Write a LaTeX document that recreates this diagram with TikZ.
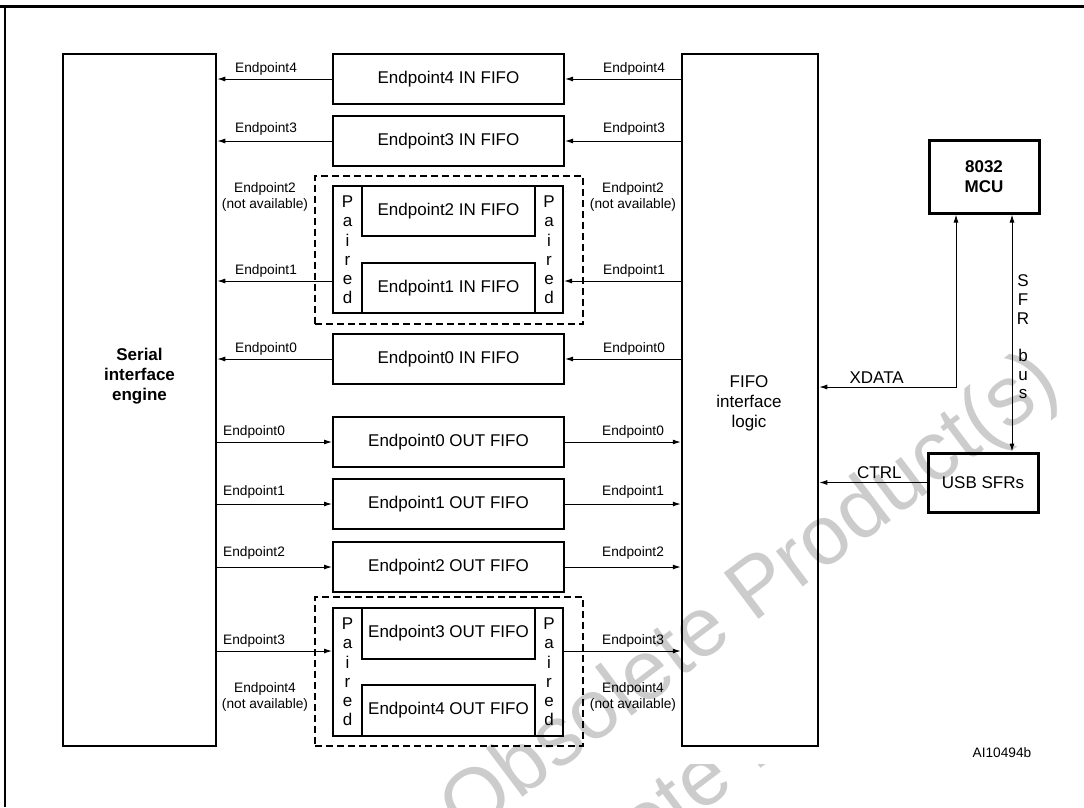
\documentclass[tikz,border=0pt]{standalone}
\usepackage{fontspec}
\setmainfont{Liberation Sans}
\usetikzlibrary{arrows.meta,positioning}

\begin{document}
\begin{tikzpicture}[x=1pt, y=-1pt, node distance=10pt,
		fifo/.style={rectangle, draw, line width=2pt, minimum width=231pt, minimum height=50pt, inner sep=0pt, font=\fontsize{17}{20}\selectfont},
		halfbox/.style={fifo, minimum width=173pt, minimum height=51pt},
		pairbox/.style={rectangle, draw, line width=2pt, minimum width=230pt, minimum height=128pt, inner sep=0pt},
		dashbox/.style={rectangle, draw, line width=2pt, dash pattern=on 7pt off 4pt, minimum width=268pt, minimum height=148pt, inner sep=0pt},
		bigbox/.style={rectangle, draw, line width=2.5pt, minimum height=692pt, inner sep=0pt},
		cpubox/.style={rectangle, draw, line width=3pt, minimum width=110pt, inner sep=0pt, font=\fontsize{17}{20}\selectfont},
		boxtext/.style={align=center, inner sep=0pt, font=\fontsize{17}{20}\selectfont},
		paired/.style={align=center, inner sep=0pt, font=\fontsize{17}{19.2}\selectfont},
		lbl/.style={inner sep=0pt, font=\fontsize{13.7}{15.5}\selectfont},
		wmark/.style={text=black!20, rotate=37, inner sep=0pt, font=\fontsize{84}{84}\selectfont},
		arrow/.style={-{Latex[length=8pt,width=5pt]}, line width=1pt},
		dblarrow/.style={{Latex[length=8pt,width=5pt]}-{Latex[length=8pt,width=5pt]}, line width=1pt}]

	\useasboundingbox (0,0) rectangle (1084,807);

	% watermark
	\node [wmark] (wm1) at (752,598) {Obsolete Product(s)};
	\begin{scope}
		\clip (0,764) rectangle (1084,807);
		\node [wmark] (wm2) at (754,747) {Obsolete Product(s)};
	\end{scope}

	% frame
	\draw [line width=3pt] (0,6) -- (1084,6);
	\draw [line width=2pt] (5,6) -- (5,807);

	% engines
	\node [bigbox, minimum width=153pt] (sie) at (139.5,400) {};
	\node [boxtext, font=\fontsize{17}{20}\selectfont\bfseries] (sietext) at (139.5,376) {Serial\\interface\\engine};
	\node [bigbox, minimum width=136pt] (fil) at (750,400) {};
	\node [boxtext] (filtext) at (749,403) {FIFO\\interface\\logic};

	% IN FIFOs
	\node [fifo] (ep4in) at (448.5,79) {Endpoint4 IN FIFO};
	\node [fifo, below=of ep4in] (ep3in) {Endpoint3 IN FIFO};
	\node [dashbox] (dashin) at (449,249.5) {};
	\node [pairbox, minimum height=127pt] (pairin) at (448,249.5) {};
	\node [halfbox, minimum height=50pt] (ep2in) at (448.5,211) {Endpoint2 IN FIFO};
	\node [halfbox, minimum height=50pt] (ep1in) at (448.5,288) {Endpoint1 IN FIFO};
	\node [paired] (pairinL) at (347.5,250) {P\\a\\i\\r\\e\\d};
	\node [paired] (pairinR) at (549,250) {P\\a\\i\\r\\e\\d};
	\node [fifo] (ep0in) at (448.5,359) {Endpoint0 IN FIFO};

	% OUT FIFOs
	\node [fifo] (ep0out) at (448.5,442) {Endpoint0 OUT FIFO};
	\node [fifo, below=of ep0out] (ep1out) {Endpoint1 OUT FIFO};
	\node [fifo, below=11pt of ep1out] (ep2out) {Endpoint2 OUT FIFO};
	\node [dashbox, minimum height=149pt] (dashout) at (449,671.5) {};
	\node [pairbox] (pairout) at (448,672) {};
	\node [halfbox] (ep3out) at (448.5,633.5) {Endpoint3 OUT FIFO};
	\node [halfbox] (ep4out) at (448.5,710.5) {Endpoint4 OUT FIFO};
	\node [paired] (pairoutL) at (347.5,672) {P\\a\\i\\r\\e\\d};
	\node [paired] (pairoutR) at (549,672) {P\\a\\i\\r\\e\\d};

	% MCU side
	\node [cpubox, minimum height=73pt, font=\fontsize{17}{20}\selectfont\bfseries, align=center] (mcu) at (984,176.5) {8032\\MCU};
	\node [cpubox, minimum height=59pt] (usb) at (983,482.5) {USB SFRs};
	\node [paired, font=\fontsize{17}{18.7}\selectfont] (sfrtext) at (1023,337) {S\\F\\R\\[18.7pt]b\\u\\s};
	\node [lbl] (ref) at (1002,753) {AI10494b};

	% IN arrows
	\draw [arrow] (ep4in.west) -- (ep4in.west -| sie.east);
	\draw [arrow] (ep4in.east -| fil.west) -- (ep4in.east);
	\draw [arrow] (ep3in.west) -- (ep3in.west -| sie.east);
	\draw [arrow] (ep3in.east -| fil.west) -- (ep3in.east);
	\coordinate (p1) at ([yshift=7pt]ep1in.center);
	\draw [arrow] (p1 -| pairin.west) -- (p1 -| sie.east);
	\draw [arrow] (p1 -| fil.west) -- (p1 -| pairin.east);
	\draw [arrow] (ep0in.west) -- (ep0in.west -| sie.east);
	\draw [arrow] (ep0in.east -| fil.west) -- (ep0in.east);

	% OUT arrows
	\draw [arrow] (ep0out.west -| sie.east) -- (ep0out.west);
	\draw [arrow] (ep0out.east) -- (ep0out.east -| fil.west);
	\draw [arrow] (ep1out.west -| sie.east) -- (ep1out.west);
	\draw [arrow] (ep1out.east) -- (ep1out.east -| fil.west);
	\draw [arrow] (ep2out.west -| sie.east) -- (ep2out.west);
	\draw [arrow] (ep2out.east) -- (ep2out.east -| fil.west);
	\coordinate (p3) at ([yshift=-17.5pt]ep3out.center);
	\draw [arrow] (p3 -| sie.east) -- (p3 -| pairout.west);
	\draw [arrow] (p3 -| pairout.east) -- (p3 -| fil.west);

	% arrow labels
	\node [lbl, anchor=base west] (l4inL) at (235,72) {Endpoint4};
	\node [lbl, anchor=base west] (l4inR) at (603,72) {Endpoint4};
	\node [lbl, anchor=base west] (l3inL) at (235,132.5) {Endpoint3};
	\node [lbl, anchor=base west] (l3inR) at (603,132.5) {Endpoint3};
	\node [lbl, align=center] (l2inL) at (265,197) {Endpoint2\\(not available)};
	\node [lbl, align=center] (l2inR) at (633,197) {Endpoint2\\(not available)};
	\node [lbl, anchor=base west] (l1inL) at (235,274) {Endpoint1};
	\node [lbl, anchor=base west] (l1inR) at (603,274) {Endpoint1};
	\node [lbl, anchor=base west] (l0inL) at (235,352) {Endpoint0};
	\node [lbl, anchor=base west] (l0inR) at (603,352) {Endpoint0};
	\node [lbl, anchor=base west] (l0outL) at (223,435) {Endpoint0};
	\node [lbl, anchor=base west] (l0outR) at (602,435) {Endpoint0};
	\node [lbl, anchor=base west] (l1outL) at (223,495) {Endpoint1};
	\node [lbl, anchor=base west] (l1outR) at (602,495) {Endpoint1};
	\node [lbl, anchor=base west] (l2outL) at (223,556) {Endpoint2};
	\node [lbl, anchor=base west] (l2outR) at (602,556) {Endpoint2};
	\node [lbl, anchor=base west] (l3outL) at (223,644) {Endpoint3};
	\node [lbl, anchor=base west] (l3outR) at (602,644) {Endpoint3};
	\node [lbl, align=center] (l4outL) at (265,697) {Endpoint4\\(not available)};
	\node [lbl, align=center] (l4outR) at (633,697) {Endpoint4\\(not available)};

	% MCU links
	\draw [dblarrow] ([xshift=-28pt]mcu.south) |- ([yshift=13pt]fil.east) node [pos=0.79, above, font=\fontsize{17}{20}\selectfont] (xdata) {XDATA};
	\draw [dblarrow] ([xshift=28pt]mcu.south) -- ([xshift=28pt]mcu.south |- usb.north);
	\draw [arrow] (usb.west) -- (usb.west -| fil.east) node [pos=0.44, above, font=\fontsize{17}{20}\selectfont] (ctrl) {CTRL};

\end{tikzpicture}
\end{document}
